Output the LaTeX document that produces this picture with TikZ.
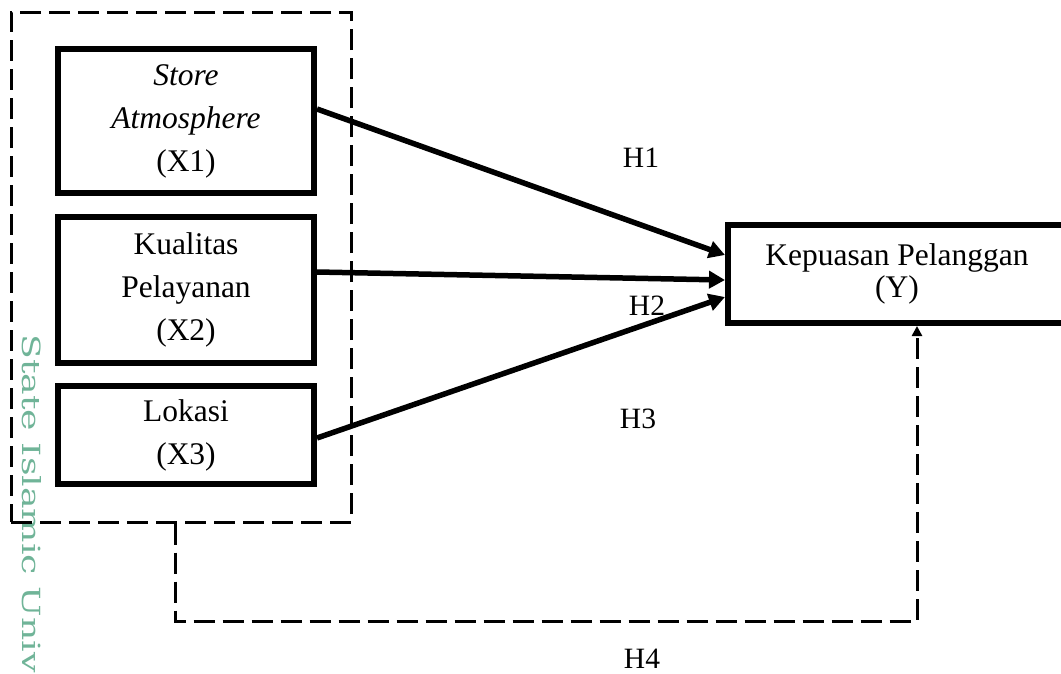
\documentclass[tikz,border=0pt]{standalone}
\usepackage{fontspec}
\setmainfont{Liberation Serif}
\newfontfamily\wmfont{DejaVu Serif}
\usetikzlibrary{arrows.meta}

\definecolor{wmgreen}{RGB}{112,180,152}

\tikzset{
  varbox/.style={draw, line width=6pt, inner sep=0pt, align=center, minimum width=256pt},
  hyparrow/.style={line width=5.5pt, -{Triangle[length=16pt,width=17pt]}},
  dashline/.style={line width=3pt, dash pattern=on 21pt off 8pt},
  hlabel/.style={font=\fontsize{29.5}{32}\selectfont}
}

\begin{document}
\begin{tikzpicture}[x=1pt, y=-1pt, font=\fontsize{31.5}{43}\selectfont]
\useasboundingbox (0,0) rectangle (1061,673);

% watermark along the left edge
\node[rotate=-90, anchor=west, inner sep=0pt, text=wmgreen,
      font=\wmfont\fontsize{25}{25}\selectfont] (wm) at (32,334)
      {\scalebox{1.45}[1]{State Islamic Univ}};

% dashed group round X1..X3
\node[draw, dashline, inner sep=0pt, minimum width=340pt, minimum height=510pt] (grp) at (181,267) {};

% independent variables
\node[varbox, minimum height=144pt] (x1) at (186,121) {\textit{Store}\\\textit{Atmosphere}\\(X1)};
\node[varbox, minimum height=146pt] (x2) at (186,290) {Kualitas\\Pelayanan\\(X2)};
\node[varbox, minimum height=98pt] (x3) at (186,435) {Lokasi\\(X3)};

% dependent variable
\node[varbox, minimum width=338pt, minimum height=98pt, font=\fontsize{31.5}{32}\selectfont] (y) at (897,274) {Kepuasan Pelanggan\\(Y)};

% hypotheses
\node[hlabel] (h1) at (641,158) {H1};
\node[hlabel] (h2) at (647,306) {H2};
\node[hlabel] (h3) at (638,419) {H3};
\node[hlabel] (h4) at (642,659) {H4};

\draw[hyparrow] ([yshift=12pt]x1.east) -- ([yshift=19pt]y.west);
\draw[hyparrow] ([yshift=18pt]x2.east) -- ([yshift=-6pt]y.west);
\draw[hyparrow] ([yshift=-3pt]x3.east) -- ([yshift=-23pt]y.west);

% simultaneous effect
\coordinate (h4l) at (175,621);
\coordinate (h4r) at (917,621);
\draw[dashline, -{Triangle[length=10pt,width=10pt]}] (grp.south -| h4l) -- (h4l) -- (h4r) -- (y.south -| h4r);

\end{tikzpicture}
\end{document}
